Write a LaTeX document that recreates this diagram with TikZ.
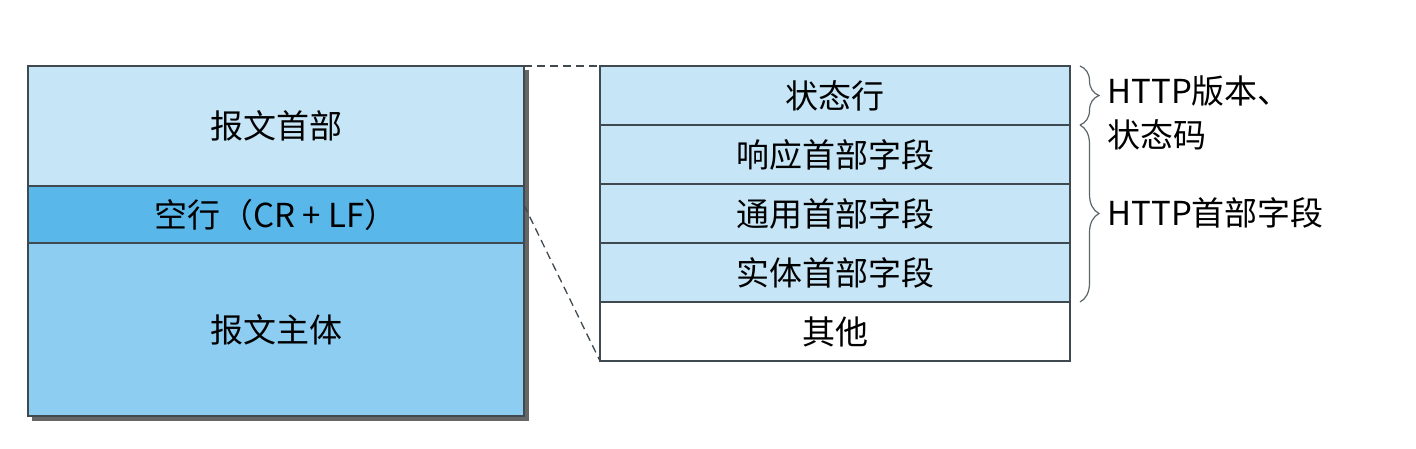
\documentclass[tikz,border=0pt]{standalone}
\usepackage{fontspec}
\setmainfont{Noto Sans CJK SC}
\usetikzlibrary{positioning,decorations.pathreplacing}
\definecolor{pale}{HTML}{C6E6F7}
\definecolor{mid}{HTML}{8ECDF2}
\definecolor{deep}{HTML}{5AB7E9}
\definecolor{edge}{HTML}{3E4A4F}

\begin{document}
\begin{tikzpicture}[x=1pt,y=-1pt,
  cell/.style={draw=edge,line width=1.6pt,inner sep=0pt,outer sep=0pt,
    font=\fontsize{33}{33}\selectfont},
  lrow/.style={cell,minimum width=496pt},
  rrow/.style={cell,fill=pale,minimum width=470pt,minimum height=59pt},
  dash line/.style={dash pattern=on 8pt off 5pt,line width=1.3pt,edge},
  brc/.style={decorate,decoration={brace,amplitude=19pt},line width=1.2pt,draw=edge!85}]
  \useasboundingbox (0,0) rectangle (1416,448);
  % shadow
  \fill[gray!80!black] (32,70) rectangle (529,421);
  \node[lrow,fill=pale,minimum height=120pt,anchor=north west] (hdr) at (28,66) {报文首部};
  \node[lrow,fill=deep,minimum height=57pt,below=0pt of hdr] (blank) {空行（CR + LF）};
  \node[lrow,fill=mid,minimum height=173pt,below=0pt of blank] (body) {报文主体};
  \node[rrow,anchor=north west] (status) at (600,66) {状态行};
  \node[rrow,below=0pt of status] (resp) {响应首部字段};
  \node[rrow,below=0pt of resp] (gen) {通用首部字段};
  \node[rrow,below=0pt of gen] (ent) {实体首部字段};
  \node[rrow,fill=white,below=0pt of ent] (others) {其他};
  \coordinate[yshift=-19pt] (dstart) at (blank.north east);
  \draw[dash line] (hdr.north east) -- (status.north west);
  \draw[dash line] (dstart) -- (others.south west);
  \draw[brc] ([xshift=10pt]status.north east) -- ([xshift=10pt]status.south east);
  \draw[brc] ([xshift=10pt]resp.north east) -- ([xshift=10pt]ent.south east);
  \node[font=\fontsize{33}{44}\selectfont,align=left,anchor=north west] (verlbl)
    at (1104,72) {HTTP版本、\\状态码};
  \node[font=\fontsize{33}{33}\selectfont,anchor=west] (hdrlbl)
    at (1104,213) {HTTP首部字段};
\end{tikzpicture}
\end{document}
